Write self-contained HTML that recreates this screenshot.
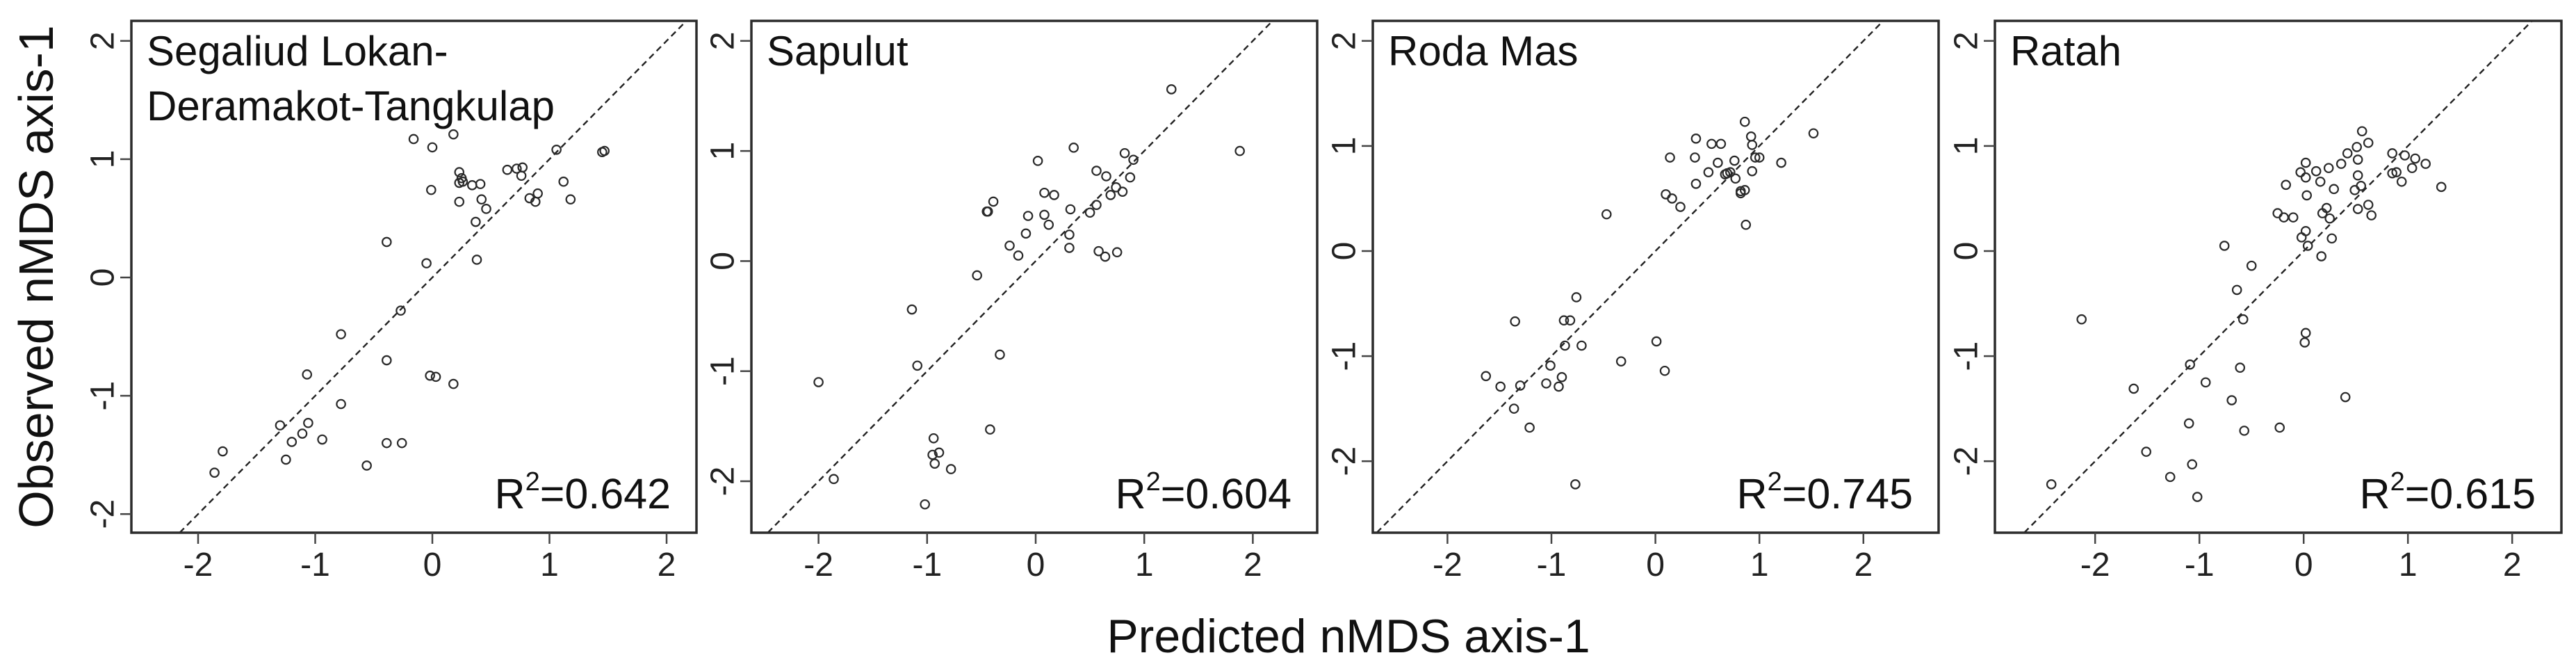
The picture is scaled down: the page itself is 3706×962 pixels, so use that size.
<!DOCTYPE html>
<html><head><meta charset="utf-8">
<style>
html,body{margin:0;padding:0;background:#fff;width:3706px;height:962px;overflow:hidden;}
svg{display:block;font-family:"Liberation Sans",Arial,sans-serif;}
</style></head>
<body>
<svg id="chart" width="3706" height="962" viewBox="0 0 3706 962" xmlns="http://www.w3.org/2000/svg" overflow="hidden">
<rect x="0" y="0" width="3706" height="962" fill="#fff"/>
<text x="0" y="0" transform="translate(52,398) rotate(-90)" text-anchor="middle" dominant-baseline="central" font-size="70" fill="#111">Observed nMDS axis-1</text>
<text x="1940" y="938" text-anchor="middle" font-size="68" fill="#111">Predicted nMDS axis-1</text>
<g id="panels"></g>
</svg>
<script>
// ---- data ----
const panelTitles = [["Segaliud Lokan-","Deramakot-Tangkulap"],["Sapulut"],["Roda Mas"],["Ratah"]];
const r2Values = ["0.642","0.604","0.745","0.615"];
const tickValues = [-2,-1,0,1,2];
const tickLabels = ["-2","-1","0","1","2"];

const p1Pred = [-0.16,0.18,0.00,0.23,0.77,0.72,0.64,1.06,1.45,1.47,0.25,0.26,0.23,0.34,0.41,-0.01,0.23,0.42,0.46,0.37,0.76,0.83,0.90,0.88,1.12,1.18,-0.39,-0.05,0.38,-0.27,-0.78,-0.39,-1.07,-0.02,0.03,0.18,-0.78,-1.30,-1.06,-1.11,-0.94,-1.20,-0.39,-0.26,-1.79,-1.25,-1.86,-0.56];
const p1Obs  = [1.17,1.21,1.10,0.89,0.93,0.92,0.91,1.08,1.06,1.07,0.84,0.81,0.80,0.78,0.79,0.74,0.64,0.66,0.58,0.47,0.86,0.67,0.71,0.64,0.81,0.66,0.30,0.12,0.15,-0.28,-0.48,-0.70,-0.82,-0.83,-0.84,-0.90,-1.07,-1.25,-1.23,-1.32,-1.37,-1.39,-1.40,-1.40,-1.47,-1.54,-1.65,-1.59];

const p2Pred = [1.25,0.35,1.88,0.02,0.82,0.90,0.56,0.65,0.87,-0.39,-0.45,-0.44,0.08,0.17,0.69,0.74,0.80,-0.07,0.08,0.12,0.32,0.50,0.56,-0.09,0.31,-0.24,-0.16,0.31,0.58,0.64,0.75,-0.54,-1.14,-0.33,-1.09,-2.00,-0.42,-0.94,-0.95,-0.89,-0.93,-0.78,-1.86,-1.02];
const p2Obs  = [1.56,1.03,1.00,0.91,0.98,0.92,0.82,0.77,0.76,0.54,0.45,0.45,0.62,0.60,0.60,0.67,0.63,0.41,0.42,0.33,0.47,0.44,0.51,0.25,0.24,0.14,0.05,0.12,0.09,0.04,0.08,-0.13,-0.44,-0.85,-0.95,-1.10,-1.53,-1.61,-1.76,-1.74,-1.84,-1.89,-1.98,-2.21];

const p3Pred = [0.86,1.52,0.39,0.92,0.54,0.63,0.93,0.14,0.38,0.96,1.00,0.76,0.60,1.21,0.51,0.69,0.72,0.93,0.77,0.67,0.39,0.10,0.16,0.24,0.82,0.86,0.82,-0.47,0.87,-0.76,-1.35,-0.88,-0.82,-0.87,-0.71,0.01,-0.33,-1.01,-1.63,-0.90,-1.49,-1.30,-1.05,-0.93,0.09,-1.36,-1.21,-0.77];
const p3Obs  = [1.23,1.12,1.07,1.09,1.02,1.02,1.01,0.89,0.89,0.89,0.89,0.86,0.84,0.84,0.75,0.74,0.75,0.76,0.69,0.73,0.64,0.54,0.50,0.42,0.57,0.58,0.55,0.35,0.25,-0.44,-0.67,-0.66,-0.66,-0.90,-0.90,-0.86,-1.05,-1.09,-1.19,-1.20,-1.29,-1.28,-1.26,-1.29,-1.14,-1.50,-1.68,-2.22];

const p4Pred = [0.56,0.62,0.51,0.42,0.85,0.97,1.07,0.52,0.02,0.36,1.17,-0.03,0.12,0.24,1.04,0.85,0.89,0.02,0.52,0.16,0.94,-0.17,0.29,1.32,0.49,0.55,0.03,-0.25,-0.19,-0.10,0.18,0.22,0.25,0.52,0.62,0.65,0.02,-0.02,0.27,0.04,-0.76,0.17,-0.50,-0.64,-0.58,-2.13,0.02,0.01,-1.09,-0.61,-1.63,-0.94,-0.69,0.40,-1.10,-0.23,-0.57,-1.51,-1.07,-1.28,-2.42,-1.02];
const p4Obs  = [1.14,1.03,0.99,0.93,0.93,0.91,0.88,0.87,0.84,0.83,0.83,0.75,0.76,0.79,0.79,0.74,0.75,0.70,0.72,0.66,0.66,0.63,0.59,0.61,0.58,0.62,0.53,0.36,0.32,0.32,0.36,0.41,0.31,0.40,0.44,0.34,0.19,0.13,0.12,0.05,0.05,-0.05,-0.14,-0.37,-0.65,-0.65,-0.78,-0.87,-1.08,-1.11,-1.31,-1.25,-1.42,-1.39,-1.64,-1.68,-1.71,-1.91,-2.03,-2.15,-2.22,-2.34];

const predSeries = [p1Pred,p2Pred,p3Pred,p4Pred];
const obsSeries = [p1Obs,p2Obs,p3Obs,p4Obs];

// ---- layout (pixel geometry, not data) ----
const layout = [
  {L:189,R:1002,T:30,B:766,x0:622,xu:168.5,y0:399,yu:170.1},
  {L:1081,R:1895,T:30,B:766,x0:1490,xu:156.2,y0:375.4,yu:158.3},
  {L:1975,R:2789,T:30,B:766,x0:2381.6,xu:149.6,y0:361,yu:151.1},
  {L:2870,R:3685,T:30,B:766,x0:3314.2,xu:150,y0:361,yu:151.1}
];
const NS="http://www.w3.org/2000/svg";
const root=document.getElementById('panels');
function mk(tag,attrs,parent){const e=document.createElementNS(NS,tag);for(const k in attrs)e.setAttribute(k,attrs[k]);(parent||root).appendChild(e);return e;}

layout.forEach((g,pi)=>{
  const xs=v=>g.x0+v*g.xu, ys=v=>g.y0-v*g.yu;
  const grp=mk('g',{});
  
  
  const cid='clip'+pi;
  const cp=mk('clipPath',{id:cid},grp);
  mk('rect',{x:g.L,y:g.T,width:g.R-g.L,height:g.B-g.T},cp);
  // 1:1 line limited to the panel domain
  const xmin=(g.L-g.x0)/g.xu, xmax=(g.R-g.x0)/g.xu;
  const ymin=(g.y0-g.B)/g.yu, ymax=(g.y0-g.T)/g.yu;
  const vmin=Math.max(xmin,ymin), vmax=Math.min(xmax,ymax);
  const ln=mk('line',{x1:xs(vmin),y1:ys(vmin),x2:xs(vmax),y2:ys(vmax),stroke:'#222','stroke-width':2.4,'stroke-dasharray':'9,6'},grp);
  
  
  const pts=mk('g',{'clip-path':'url(#'+cid+')'},grp);
  
  
  predSeries[pi].forEach((p,i)=>{
    const c=mk('circle',{cx:xs(p),cy:ys(obsSeries[pi][i]),r:6.2,fill:'none',stroke:'#2a2a2a','stroke-width':2.2},pts);
    
    
  });
  const bx=mk('rect',{x:g.L,y:g.T,width:g.R-g.L,height:g.B-g.T,fill:'none',stroke:'#2b2b2b','stroke-width':3.5},grp);
  
  
  tickValues.forEach((t,ti)=>{
    const x=xs(t);
    mk('line',{x1:x,y1:g.B,x2:x,y2:g.B+16,stroke:'#444','stroke-width':2.5},grp);
    const tx=mk('text',{x:x,y:g.B+62,'text-anchor':'middle','font-size':48,fill:'#222'},grp);
    tx.textContent=tickLabels[ti];
    
    
    const y=ys(t);
    mk('line',{x1:g.L,y1:y,x2:g.L-16,y2:y,stroke:'#444','stroke-width':2.5},grp);
    const ty=mk('text',{x:0,y:0,transform:'translate('+(g.L-41)+','+y+') rotate(-90)','text-anchor':'middle','dominant-baseline':'central','font-size':48,fill:'#222'},grp);
    ty.textContent=tickLabels[ti];
    
    
  });
  panelTitles[pi].forEach((line,li)=>{
    const tt=mk('text',{x:g.L+22,y:94+li*79,'font-size':60,fill:'#111'},grp);
    tt.textContent=line;
    
    
  });
  const rt=mk('text',{x:g.R-37,y:731,'text-anchor':'end','font-size':61,fill:'#111'},grp);
  
  
  const s1=mk('tspan',{},rt); s1.textContent='R';
  const s2=mk('tspan',{dy:-26,'font-size':38},rt); s2.textContent='2';
  const s3=mk('tspan',{dy:26},rt); s3.textContent='='+r2Values[pi];
});
</script>
</body></html>
